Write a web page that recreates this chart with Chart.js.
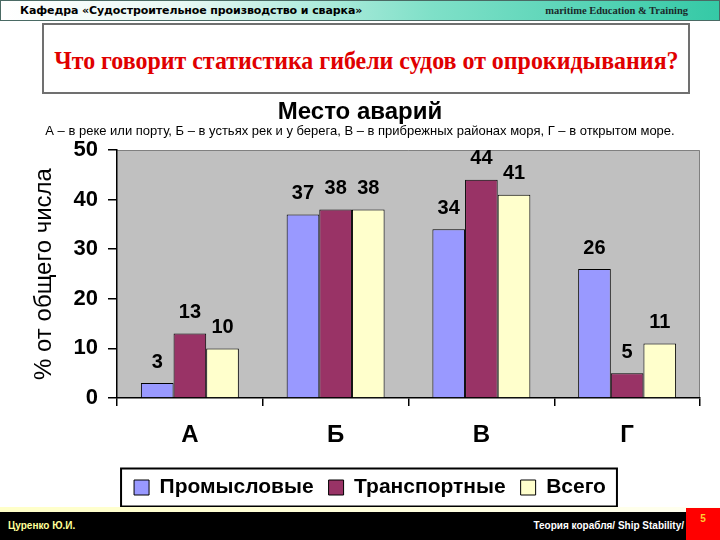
<!DOCTYPE html>
<html lang="ru">
<head>
<meta charset="utf-8">
<script src="https://cdn.jsdelivr.net/npm/chart.js@4/dist/chart.umd.min.js"></script>
<style>
  body { margin: 0; width: 720px; height: 540px; overflow: hidden; background: #fff; position: relative; }
  #top { position: absolute; left: 0; top: 0; width: 718px; height: 19px; border: 1px solid #4a6a64;
    background: linear-gradient(to right, #ffffff 0%, #e8f8f4 25%, #7fe0c8 60%, #35c9a6 100%); z-index: 2; }
  #top .l { position: absolute; left: 19px; top: 3px; font: bold 11px "DejaVu Sans", sans-serif; color: #000; letter-spacing: -0.1px; }
  #top .r { position: absolute; right: 31px; top: 4px; font: bold 10.5px "Liberation Serif", serif; color: #1a2a2a; }
  #head { position: absolute; left: 42px; top: 23px; width: 644px; height: 62px; border: 2px solid #707070; background: #fff; z-index: 2;
    display: flex; align-items: center; justify-content: center; padding-top: 5px; box-sizing: content-box; }
  #head span { display: inline-block; white-space: nowrap; font: bold 26px "Liberation Serif", serif; color: #e00000; transform: scaleX(0.92); }
  #wrap { position: absolute; left: 0; top: 95px; width: 720px; height: 413px; z-index: 1; }
  #line { position: absolute; left: 0; top: 507px; width: 720px; height: 5px; background: linear-gradient(to right, #ffffc8, #fffff0); z-index: 2; }
  #foot { position: absolute; left: 0; top: 512px; width: 720px; height: 28px; background: #000; z-index: 2; }
  #foot .l { position: absolute; left: 8px; top: 8px; font: bold 10px "Liberation Sans", sans-serif; color: #ffff99; }
  #foot .r { position: absolute; right: 36px; top: 8px; font: bold 10px "Liberation Sans", sans-serif; color: #fff; }
  #page { position: absolute; left: 686px; top: 508px; width: 34px; height: 32px; background: #ff0000; z-index: 3;
    font: bold 10px "Liberation Sans", sans-serif; color: #ffcc33; text-align: center; line-height: 22px; }
</style>
</head>
<body>
<div id="top"><span class="l">Кафедра «Судостроительное производство и сварка»</span><span class="r">maritime Education &amp; Training</span></div>
<div id="head"><span>Что говорит статистика гибели судов от опрокидывания?</span></div>
<div id="wrap"><canvas id="chart"></canvas></div>
<div id="line"></div>
<div id="foot"><span class="l">Цуренко Ю.И.</span><span class="r">Теория корабля/ Ship Stability/</span></div>
<div id="page">5</div>
<script>
const categories = ["А", "Б", "В", "Г"];
const fishing = [3, 37, 34, 26];     // Промысловые
const transport = [13, 38, 44, 5];   // Транспортные
const total = [10, 38, 41, 11];      // Всего
const yTicks = [0, 10, 20, 30, 40, 50];

const plotBg = {
  id: "plotBg",
  beforeDraw(chart) {
    const a = chart.chartArea, ctx = chart.ctx;
    ctx.save();
    ctx.fillStyle = "#c0c0c0";
    ctx.fillRect(a.left, a.top, a.right - a.left, a.bottom - a.top);
    ctx.strokeStyle = "#808080";
    ctx.lineWidth = 1;
    ctx.beginPath();
    ctx.moveTo(a.left, a.top + 0.5);
    ctx.lineTo(a.right - 0.5, a.top + 0.5);
    ctx.lineTo(a.right - 0.5, a.bottom);
    ctx.stroke();
    ctx.restore();
  }
};

const valueLabels = {
  id: "valueLabels",
  afterDatasetsDraw(chart) {
    const ctx = chart.ctx;
    ctx.save();
    ctx.font = "bold 20px 'Liberation Sans', Arial, sans-serif";
    ctx.fillStyle = "#000";
    ctx.textAlign = "center";
    ctx.textBaseline = "middle";
    chart.data.datasets.forEach((ds, i) => {
      chart.getDatasetMeta(i).data.forEach((bar, j) => {
        ctx.fillText(String(ds.data[j]), bar.x, bar.y - 21);
      });
    });
    ctx.restore();
  }
};

// shift legend a bit to the right and draw its frame
const legendBox = {
  id: "legendBox",
  beforeDraw(chart) {
    const lg = chart.legend;
    if (!lg._shifted) {
      lg.left += 10; lg.right += 10;
      lg.legendHitBoxes.forEach(h => (h.left += 10));
      lg._shifted = true;
    }
  },
  afterDraw(chart) {
    const lg = chart.legend, hb = lg.legendHitBoxes;
    if (!hb.length) return;
    const first = hb[0], last = hb[hb.length - 1];
    const cy = first.top + first.height / 2;
    const ctx = chart.ctx;
    ctx.save();
    ctx.strokeStyle = "#000";
    ctx.lineWidth = 2;
    ctx.strokeRect(first.left - 13, cy - 19, last.left + last.width - first.left + 24, 38);
    ctx.restore();
  }
};

new Chart(document.getElementById("chart"), {
  type: "bar",
  data: {
    labels: categories,
    datasets: [
      { label: "Промысловые", data: fishing, backgroundColor: "#9999ff" },
      { label: "Транспортные", data: transport, backgroundColor: "#993366" },
      { label: "Всего", data: total, backgroundColor: "#ffffcc" }
    ]
  },
  options: {
    responsive: true,
    maintainAspectRatio: false,
    animation: false,
    layout: { padding: { left: 20, right: 20, top: 0, bottom: 0 } },
    datasets: {
      bar: { borderColor: "#000", borderWidth: 1, categoryPercentage: 0.672, barPercentage: 1 }
    },
    plugins: {
      title: {
        display: true,
        text: "Место аварий",
        color: "#000",
        font: { family: "'Liberation Sans', Arial, sans-serif", size: 24, weight: "bold", lineHeight: 1.0 },
        padding: { top: 5, bottom: 0 }
      },
      subtitle: {
        display: true,
        text: "А – в реке или порту, Б – в устьях рек и у берега, В – в прибрежных районах моря, Г – в открытом море.",
        color: "#000",
        font: { family: "'Liberation Sans', Arial, sans-serif", size: 13, lineHeight: 1.2 },
        padding: { top: 0, bottom: 10.4 }
      },
      legend: {
        position: "bottom",
        labels: {
          color: "#000",
          boxWidth: 15,
          boxHeight: 15,
          padding: 15,
          font: { family: "'Liberation Sans', Arial, sans-serif", size: 21, weight: "bold" }
        }
      },
      tooltip: { enabled: false }
    },
    scales: {
      x: {
        afterFit: s => { s.height = 64; },
        grid: { drawOnChartArea: false, color: "#000", lineWidth: 1.5, tickLength: 8 },
        border: { color: "#000", width: 1.5 },
        ticks: { color: "#000", padding: 15, font: { family: "'Liberation Sans', Arial, sans-serif", size: 24, weight: "bold" } }
      },
      y: {
        min: 0,
        max: 50,
        afterFit: s => { s.width = 97; },
        afterBuildTicks: s => { s.ticks = yTicks.map(v => ({ value: v })); },
        grid: { drawOnChartArea: false, color: "#000", lineWidth: 1.5, tickLength: 9 },
        border: { color: "#000", width: 1.5 },
        ticks: { color: "#000", padding: 10, font: { family: "'Liberation Sans', Arial, sans-serif", size: 22, weight: "bold" } },
        title: {
          display: true,
          text: "% от общего числа",
          color: "#000",
          padding: { top: 9.6, bottom: 0 },
          font: { family: "'Liberation Sans', Arial, sans-serif", size: 24, lineHeight: 1.2 }
        }
      }
    }
  },
  plugins: [plotBg, valueLabels, legendBox]
});
</script>
</body>
</html>
